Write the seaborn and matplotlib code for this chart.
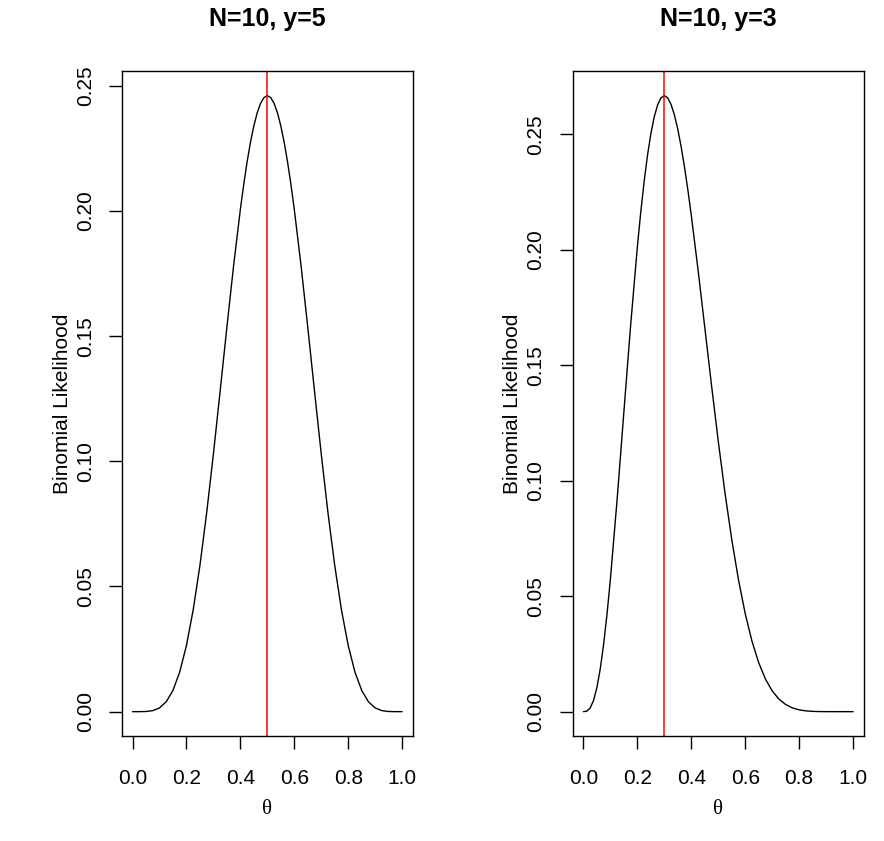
import matplotlib
matplotlib.use("Agg")
import matplotlib.pyplot as plt
import seaborn as sns
import pandas as pd

# ── Data ───────────────────────────────────────────────────────────────────────

# main grid, theta step 0.025
theta = [i / 40 for i in range(41)]

lik_y5 = [0, 0.0000022, 0.0000609, 0.000405, 0.001488, 0.003945, 0.008491,
          0.015807, 0.026424, 0.040628, 0.058399, 0.079388, 0.102919,
          0.128036, 0.153569, 0.178219, 0.200658, 0.219628, 0.234030,
          0.243031, 0.246094, 0.243031, 0.234030, 0.219628, 0.200658,
          0.178219, 0.153569, 0.128036, 0.102919, 0.079388, 0.058399,
          0.040628, 0.026424, 0.015807, 0.008491, 0.003945, 0.001488,
          0.000405, 0.0000609, 0.0000022, 0]

lik_y3 = [0, 0.001571, 0.010475, 0.029333, 0.057396, 0.092039, 0.129834,
          0.167291, 0.201327, 0.229531, 0.250282, 0.262752, 0.266828,
          0.263001, 0.252219, 0.235742, 0.214991, 0.191441, 0.166478,
          0.141377, 0.117188, 0.094737, 0.074604, 0.057136, 0.042467,
          0.030552, 0.021203, 0.014135, 0.009002, 0.005439, 0.003090,
          0.001631, 0.000786, 0.000339, 0.000126, 0.000038, 0.0000088,
          0.0000013, 0.0000001, 0, 0]

# extra readings where the curves bend sharply
theta_pk_y5 = [0.4125, 0.4375, 0.4625, 0.4875, 0.5125, 0.5375, 0.5625, 0.5875]
lik_pk_y5 = [0.210647, 0.227460, 0.239250, 0.245326,
             0.245326, 0.239250, 0.227460, 0.210647]

theta_pk_y3 = [0.0125, 0.0375, 0.0625, 0.0875,
               0.2125, 0.2375, 0.2625, 0.2875, 0.3125, 0.3375, 0.3625, 0.3875]
lik_pk_y3 = [0.000215, 0.004843, 0.018648, 0.042348,
             0.216278, 0.240908, 0.257575, 0.265822,
             0.265849, 0.258404, 0.244607, 0.225806]

titles = ["N=10, y=5", "N=10, y=3"]
mle = [0.5, 0.3]
x_ticks = [0.0, 0.2, 0.4, 0.6, 0.8, 1.0]
y_ticks = [0.00, 0.05, 0.10, 0.15, 0.20, 0.25]


def curve(t_main, l_main, t_pk, l_pk):
    df = pd.DataFrame({"theta": t_main + t_pk, "lik": l_main + l_pk})
    return df.sort_values("theta").reset_index(drop=True)


curves = [curve(theta, lik_y5, theta_pk_y5, lik_pk_y5),
          curve(theta, lik_y3, theta_pk_y3, lik_pk_y3)]

# ── Style ──────────────────────────────────────────────────────────────────────

sns.set_style("ticks")
plt.rcParams["font.family"] = ["Liberation Sans", "DejaVu Sans"]
plt.rcParams["font.size"] = 15
plt.rcParams["axes.linewidth"] = 1.0
for key in ["text.color", "axes.labelcolor", "xtick.color", "ytick.color",
            "axes.edgecolor", "xtick.labelcolor", "ytick.labelcolor"]:
    plt.rcParams[key] = "black"

fig = plt.figure(figsize=(8.84, 8.41), dpi=100)
lefts = [0.1377, 0.6478]

for left, title, df, m in zip(lefts, titles, curves, mle):
    ax = fig.add_axes([left, 0.1245, 0.3294, 0.7911])
    sns.lineplot(data=df, x="theta", y="lik", ax=ax, color="black",
                 linewidth=1.0)
    ax.axvline(m, color="red", linewidth=1.1)

    # R-style 4% padding
    lo, hi = df["lik"].min(), df["lik"].max()
    pad = 0.04 * (hi - lo)
    ax.set_xlim(-0.04, 1.04)
    ax.set_ylim(lo - pad, hi + pad)

    ax.set_xticks(x_ticks)
    ax.set_xticklabels([f"{t:.1f}" for t in x_ticks])
    ax.set_yticks(y_ticks)
    ax.set_yticklabels([f"{t:.2f}" for t in y_ticks], rotation=90, va="center")
    ax.tick_params(axis="both", length=9.5, width=1.0, labelsize=15)
    ax.tick_params(axis="x", pad=14)
    ax.tick_params(axis="y", pad=10)
    for s in ax.spines.values():
        s.set_visible(True)

    ax.set_xlabel("θ", family=["Liberation Serif", "DejaVu Serif"],
                  fontsize=15, va="center")
    ax.xaxis.set_label_coords(0.5, -0.11)
    ax.set_ylabel("Binomial Likelihood", fontsize=15, va="center")
    ax.yaxis.set_label_coords(-0.205, 0.5)

    ax.text(0.5, 1.078, title, transform=ax.transAxes, ha="center",
            va="center", fontsize=18, fontweight="bold")

fig.savefig("out.png", dpi=100)
